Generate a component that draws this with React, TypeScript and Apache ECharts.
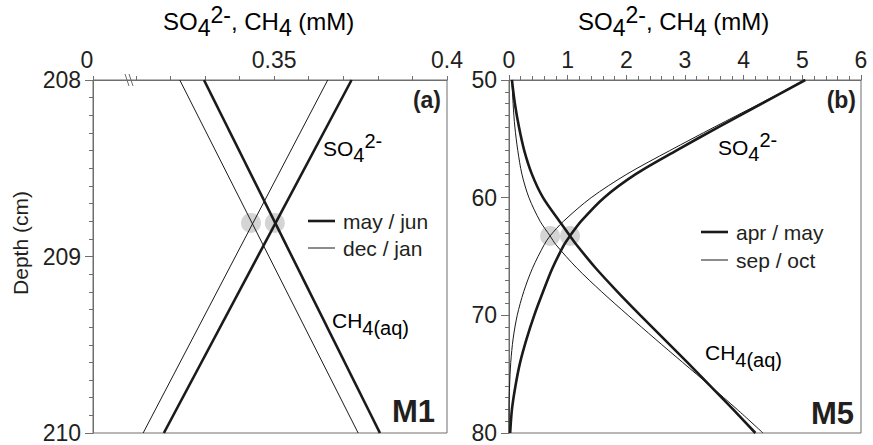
import React, { useEffect, useRef } from "react";
import * as echarts from "echarts";

// ---------- Panel (a) : M1 ----------
const depthA = [208, 210];
const so4MayJunA = [0.3724, 0.3181];
const so4DecJanA = [0.3655, 0.3121];
const ch4MayJunA = [0.3297, 0.3806];
const ch4DecJanA = [0.3227, 0.3743];
const circlesA = [
  [0.3433, 208.81],
  [0.3502, 208.81],
];
const xMinA = 0.2976; // shown as "0" (broken axis)
const xTicksA = [0.2976, 0.31, 0.32, 0.33, 0.34, 0.35, 0.36, 0.37, 0.38, 0.39, 0.4];
const xLabelsA = [0.2976, 0.35, 0.4];

// ---------- Panel (b) : M5 ----------
const depthB = [50, 52, 54, 56, 58, 60, 62, 63.25, 64, 66, 68, 70, 72, 74, 76, 78, 80];
const so4AprMayB = [5.05, 4.31, 3.57, 2.85, 2.16, 1.62, 1.23, 1.04, 0.94, 0.74, 0.58, 0.43, 0.3, 0.19, 0.11, 0.05, 0.02];
const so4SepOctB = [5.05, 4.28, 3.5, 2.74, 2.01, 1.4, 0.93, 0.7, 0.6, 0.4, 0.25, 0.14, 0.07, 0.03, 0.01, 0.0, 0.0];
const ch4AprMayB = [0.05, 0.1, 0.17, 0.26, 0.39, 0.58, 0.86, 1.04, 1.15, 1.48, 1.85, 2.24, 2.64, 3.04, 3.43, 3.82, 4.2];
const ch4SepOctB = [0.05, 0.07, 0.1, 0.15, 0.22, 0.34, 0.53, 0.7, 0.8, 1.16, 1.58, 2.03, 2.49, 2.96, 3.43, 3.89, 4.33];
const circlesB = [
  [0.7, 63.25],
  [1.04, 63.25],
];

const AX = "#6e6e6e";
const TXT = "#231f20";
const LINE = "#1a1a1a";
const FONT = "Liberation Sans, Arial, sans-serif";

const pair = (xs: number[], ys: number[]) => xs.map((x, i) => [x, ys[i]]);

const richChem = {
  n: { fontSize: 21, fontFamily: FONT, color: TXT, lineHeight: 34, verticalAlign: "middle" },
  sub: { fontSize: 20, fontFamily: FONT, color: TXT, lineHeight: 22, verticalAlign: "bottom" },
  sup: { fontSize: 20, fontFamily: FONT, color: TXT, lineHeight: 22, verticalAlign: "top" },
};
const richTitle = {
  n: { fontSize: 24, fontFamily: FONT, color: TXT, lineHeight: 36, verticalAlign: "middle" },
  sub: { fontSize: 23, fontFamily: FONT, color: TXT, lineHeight: 26, verticalAlign: "bottom" },
  sup: { fontSize: 23, fontFamily: FONT, color: TXT, lineHeight: 26, verticalAlign: "top" },
};

export default function App() {
  const ref = useRef<HTMLDivElement>(null);
  useEffect(() => {
    const chart = echarts.init(ref.current!, null, { renderer: "svg" });

    const lineSeries = (name: string, data: number[][], idx: number, thick: boolean, smooth: boolean) => ({
      type: "line",
      name,
      xAxisIndex: idx,
      yAxisIndex: idx,
      data,
      smooth: smooth ? 0.3 : false,
      showSymbol: false,
      symbol: "none",
      lineStyle: { color: LINE, width: thick ? 2.6 : 1 },
      z: 3,
    });

    const xAxisCommon = {
      type: "value",
      position: "top",
      axisLine: { show: true, lineStyle: { color: AX, width: 1 } },
      splitLine: { show: false },
    };
    const yAxisCommon = {
      type: "value",
      inverse: true,
      axisLine: { show: true, lineStyle: { color: AX, width: 1 } },
      splitLine: { show: false },
      axisTick: { show: true, length: 8, lineStyle: { color: AX } },
      minorTick: { show: true, splitNumber: 10, length: 4, lineStyle: { color: AX } },
      axisLabel: { fontSize: 23, fontFamily: FONT, color: TXT, margin: 12 },
    };

    const title = "{n|SO}{sub|4}{sup|2-}{n|, CH}{sub|4}{n| (mM)}";
    const graphic: any[] = [
      // titles
      { type: "text", left: 163, top: 3, style: { text: title, rich: richTitle } },
      { type: "text", left: 578, top: 3, style: { text: title, rich: richTitle } },
      // y label
      {
        type: "text",
        x: 20,
        y: 243,
        rotation: Math.PI / 2,
        style: { text: "Depth (cm)", fontSize: 21, fontFamily: FONT, fill: TXT, align: "center", verticalAlign: "middle" },
      },
      // axis break marks
      { type: "line", shape: { x1: 125, y1: 74, x2: 129, y2: 86 }, style: { stroke: AX, lineWidth: 1 }, z: 10 },
      { type: "line", shape: { x1: 129, y1: 74, x2: 133, y2: 86 }, style: { stroke: AX, lineWidth: 1 }, z: 10 },
      // panel letters
      { type: "text", right: 873 - 441, top: 88, style: { text: "(a)", fontSize: 23, fontWeight: "bold", fontFamily: FONT, fill: TXT } },
      { type: "text", right: 873 - 856, top: 88, style: { text: "(b)", fontSize: 23, fontWeight: "bold", fontFamily: FONT, fill: TXT } },
      { type: "text", left: 392, top: 396, style: { text: "M1", fontSize: 31, fontWeight: "bold", fontFamily: FONT, fill: TXT } },
      { type: "text", left: 811, top: 398, style: { text: "M5", fontSize: 31, fontWeight: "bold", fontFamily: FONT, fill: TXT } },
      // species labels
      { type: "text", left: 323, top: 131, style: { text: "{n|SO}{sub|4}{sup|2-}", rich: richChem } },
      { type: "text", left: 332, top: 310, style: { text: "{n|CH}{sub|4(aq)}", rich: richChem } },
      { type: "text", left: 718, top: 130, style: { text: "{n|SO}{sub|4}{sup|2-}", rich: richChem } },
      { type: "text", left: 705, top: 342, style: { text: "{n|CH}{sub|4(aq)}", rich: richChem } },
      // legends
      { type: "line", shape: { x1: 308, y1: 221, x2: 335, y2: 221 }, style: { stroke: LINE, lineWidth: 2.6 } },
      { type: "text", x: 343, y: 221, style: { text: "may / jun", fontSize: 21, fontFamily: FONT, fill: TXT, verticalAlign: "middle" } },
      { type: "line", shape: { x1: 308, y1: 248, x2: 335, y2: 248 }, style: { stroke: LINE, lineWidth: 1 } },
      { type: "text", x: 343, y: 248, style: { text: "dec / jan", fontSize: 21, fontFamily: FONT, fill: TXT, verticalAlign: "middle" } },
      { type: "line", shape: { x1: 701, y1: 232, x2: 728, y2: 232 }, style: { stroke: LINE, lineWidth: 2.6 } },
      { type: "text", x: 736, y: 232, style: { text: "apr / may", fontSize: 21, fontFamily: FONT, fill: TXT, verticalAlign: "middle" } },
      { type: "line", shape: { x1: 701, y1: 260, x2: 728, y2: 260 }, style: { stroke: LINE, lineWidth: 1 } },
      { type: "text", x: 736, y: 260, style: { text: "sep / oct", fontSize: 21, fontFamily: FONT, fill: TXT, verticalAlign: "middle" } },
    ];

    const option: any = {
      animation: false,
      backgroundColor: "#ffffff",
      grid: [
        { left: 93, top: 80, width: 354, height: 353, show: true, borderColor: AX, borderWidth: 1, backgroundColor: "transparent" },
        { left: 509, top: 80, width: 352, height: 353, show: true, borderColor: AX, borderWidth: 1, backgroundColor: "transparent" },
      ],
      xAxis: [
        {
          ...xAxisCommon,
          gridIndex: 0,
          min: xMinA,
          max: 0.4,
          axisTick: { show: true, length: 4, lineStyle: { color: AX }, customValues: xTicksA },
          axisLabel: {
            customValues: xLabelsA,
            formatter: (v: number) => (v < 0.3 ? "{z|0}" : String(Math.round(v * 100) / 100)),
            fontSize: 23,
            fontFamily: FONT,
            color: TXT,
            margin: 9,
            rich: { z: { fontSize: 23, fontFamily: FONT, color: TXT, padding: [0, 12, 0, 0] } },
          },
        },
        {
          ...xAxisCommon,
          gridIndex: 1,
          min: 0,
          max: 6,
          interval: 1,
          axisTick: { show: true, length: 5, lineStyle: { color: AX } },
          minorTick: { show: true, splitNumber: 5, length: 4, lineStyle: { color: AX } },
          axisLabel: { fontSize: 23, fontFamily: FONT, color: TXT, margin: 9 },
        },
      ],
      yAxis: [
        { ...yAxisCommon, gridIndex: 0, min: 208, max: 210, interval: 1 },
        { ...yAxisCommon, gridIndex: 1, min: 50, max: 80, interval: 10 },
      ],
      series: [
        {
          type: "scatter",
          xAxisIndex: 0,
          yAxisIndex: 0,
          data: circlesA,
          symbolSize: 20,
          itemStyle: { color: "#c9c9c9" },
          z: 1,
        },
        {
          type: "scatter",
          xAxisIndex: 1,
          yAxisIndex: 1,
          data: circlesB,
          symbolSize: 20,
          itemStyle: { color: "#c9c9c9" },
          z: 1,
        },
        lineSeries("may / jun", pair(so4MayJunA, depthA), 0, true, false),
        lineSeries("dec / jan", pair(so4DecJanA, depthA), 0, false, false),
        lineSeries("may / jun", pair(ch4MayJunA, depthA), 0, true, false),
        lineSeries("dec / jan", pair(ch4DecJanA, depthA), 0, false, false),
        lineSeries("apr / may", pair(so4AprMayB, depthB), 1, true, true),
        lineSeries("sep / oct", pair(so4SepOctB, depthB), 1, false, true),
        lineSeries("apr / may", pair(ch4AprMayB, depthB), 1, true, true),
        lineSeries("sep / oct", pair(ch4SepOctB, depthB), 1, false, true),
      ],
      graphic,
    };
    chart.setOption(option);
    return () => chart.dispose();
  }, []);
  return <div ref={ref} style={{ position: "fixed", left: 0, top: 0, width: 873, height: 445 }} />;
}
